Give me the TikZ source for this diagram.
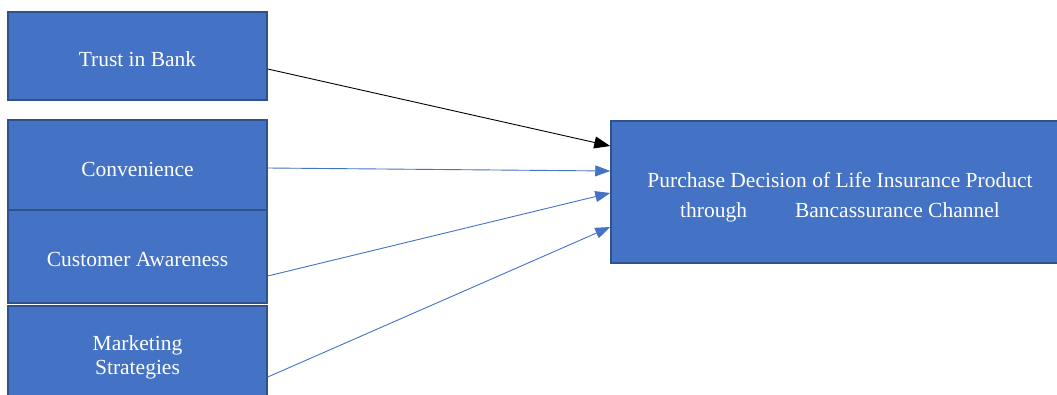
\documentclass[tikz,border=0pt]{standalone}
\usepackage{fontspec}
\setmainfont{Liberation Serif}
\usetikzlibrary{arrows.meta}
\definecolor{boxfill}{HTML}{4472C4}
\definecolor{boxline}{HTML}{2F528F}
\begin{document}
\begin{tikzpicture}[x=1pt,y=-1pt,
  box/.style={draw=boxline, line width=1.5pt, fill=boxfill, rectangle, inner sep=0pt},
  txt/.style={text=white, inner sep=0pt, align=center, font=\fontsize{21.5}{24}\selectfont},
  link/.style={draw=boxfill, line width=0.9pt, -{Triangle[length=15pt,width=11pt]}},
  blink/.style={draw=black, line width=0.9pt, -{Triangle[length=16pt,width=12pt]}}]
\useasboundingbox (0,0) rectangle (1057,394);
\clip (0,0) rectangle (1057,394);
\node[box, minimum width=259pt, minimum height=88pt] (trust) at (137.5,56) {};
\node[box, minimum width=259pt, minimum height=90pt] (conv) at (137.5,165) {};
\node[box, minimum width=259pt, minimum height=93pt] (aware) at (137.5,256.5) {};
\node[box, minimum width=259pt, minimum height=94pt] (market) at (137.5,353) {};
\node[box, minimum width=458pt, minimum height=142pt] (dec) at (840,192) {};
\node[txt] (trustt) at ([yshift=-3.5pt]trust.center) {Trust in Bank};
\node[txt] (convt) at ([yshift=-4pt]conv.center) {Convenience};
\node[txt] (awaret) at ([yshift=-3pt]aware.center) {Customer Awareness};
\node[txt] (markett) at ([yshift=-4pt]market.center) {Marketing\\Strategies};
\node[txt, font=\fontsize{21.5}{30}\selectfont] (dect) at ([yshift=-5pt]dec.center)
  {Purchase Decision of Life Insurance Product\\through\hspace{48pt}Bancassurance Channel};
\draw[blink] ([yshift=-13pt]trust.east) -- ([yshift=46pt]dec.west);
\draw[link] ([yshift=-3pt]conv.east) -- ([yshift=21pt]dec.west);
\draw[link] ([yshift=-19.5pt]aware.east) -- ([yshift=-1pt]dec.west);
\draw[link] ([yshift=-24pt]market.east) -- ([yshift=-35pt]dec.west);
\end{tikzpicture}
\end{document}
